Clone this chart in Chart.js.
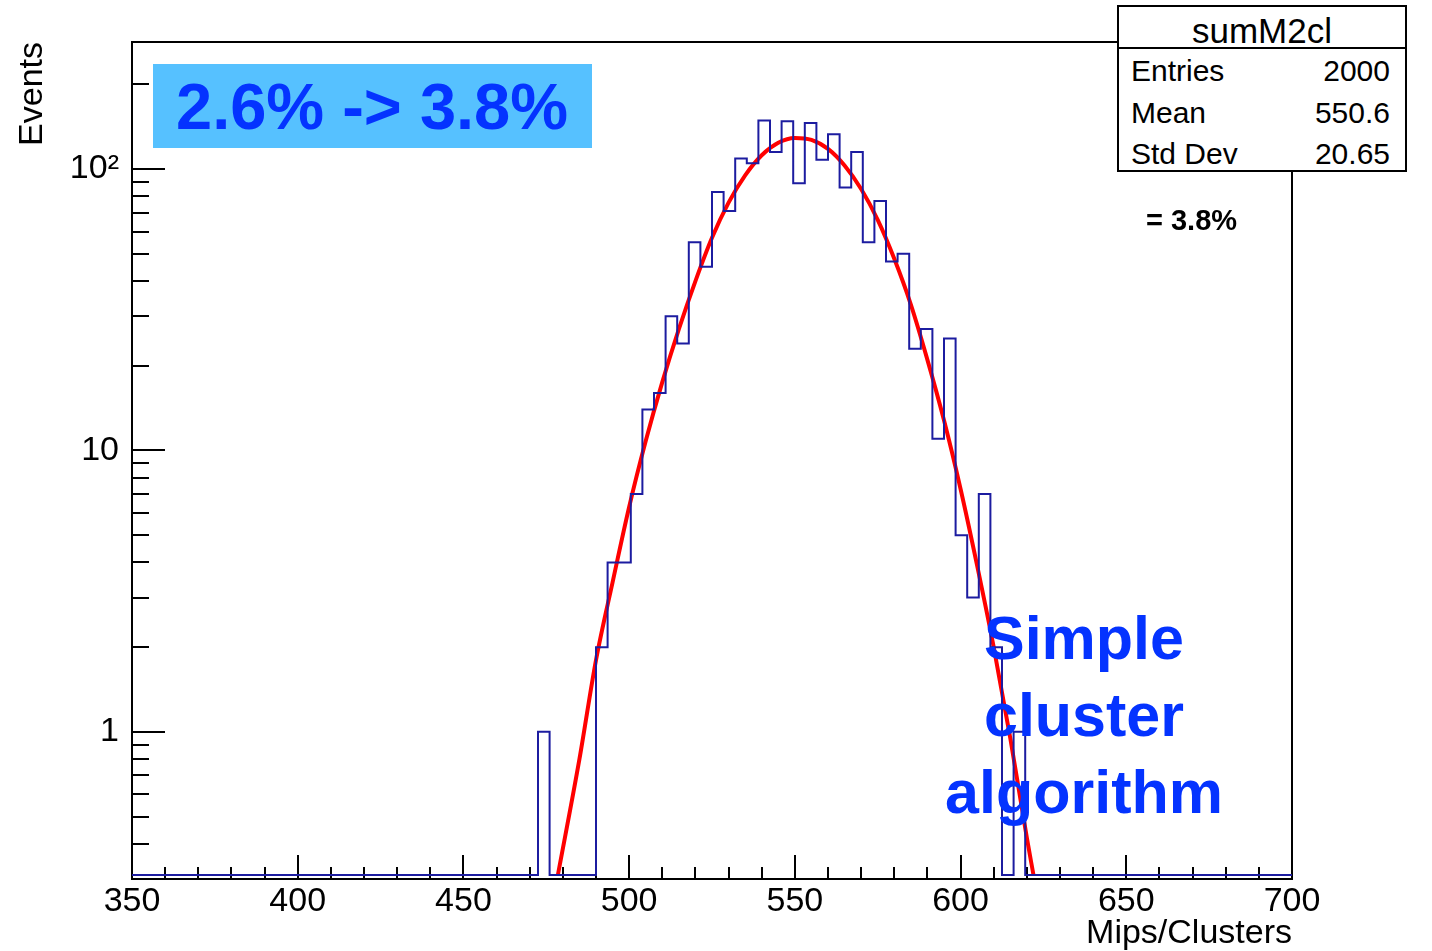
<!DOCTYPE html>
<html>
<head>
<meta charset="utf-8">
<script src="https://cdn.jsdelivr.net/npm/chart.js@4.4.1/dist/chart.umd.min.js"></script>
<style>
  html, body { margin: 0; padding: 0; background: #fff; }
  #wrap { position: relative; width: 1432px; height: 951px; font-family: "Liberation Sans", Arial, Helvetica, sans-serif; }
  #wrap canvas { position: absolute; left: 0; top: 0; }
  .txt { position: absolute; white-space: nowrap; color: #000; }
  #ratio { position: absolute; left: 153px; top: 64px; width: 439px; height: 84px; background: #56c1ff; }
  #ratio span { position: absolute; left: 23px; top: 1px; font-size: 65px; line-height: 84px; font-weight: bold; color: #0433ff; white-space: nowrap; }
  #stats { position: absolute; left: 1117px; top: 5px; width: 290px; height: 167px; box-sizing: border-box; border: 2px solid #000; background: #fff; }
  #stats .sep { position: absolute; left: 0; right: 0; top: 40px; border-top: 2px solid #000; }
  .st { position: absolute; font-size: 30px; line-height: 30px; color: #000; white-space: nowrap; }
  #algo { position: absolute; left: 984px; top: 600px; width: 200px; text-align: center; font-size: 61px; line-height: 77px; font-weight: bold; color: #0433ff; }
  #algo div { white-space: nowrap; margin-left: -50px; margin-right: -50px; }
</style>
</head>
<body>
<div id="wrap">
  <canvas id="myChart" width="1432" height="951"></canvas>
  <div id="ratio"><span>2.6% -&gt; 3.8%</span></div>
  <div id="stats">
    <div class="st" style="left:0;right:0;top:6px;text-align:center;font-size:35px;line-height:35px;">sumM2cl</div>
    <div class="sep"></div>
    <div class="st" style="left:12px;top:49px;">Entries</div>
    <div class="st" style="right:15px;top:49px;">2000</div>
    <div class="st" style="left:12px;top:91px;">Mean</div>
    <div class="st" style="right:15px;top:91px;">550.6</div>
    <div class="st" style="left:12px;top:132px;">Std Dev</div>
    <div class="st" style="right:15px;top:132px;">20.65</div>
  </div>
  <div class="txt" style="left:1146px;top:206px;font-size:29px;line-height:29px;font-weight:bold;">= 3.8%</div>
  <div id="algo"><div>Simple</div><div>cluster</div><div>algorithm</div></div>
</div>
<script>
// histogram sumM2cl (bins of 3.5, only the filled part, rest is 0)
const binStart = 472.5
const binWidth = 3.5
const counts = [1, 0, 0, 0, 0, 2, 4, 4, 7, 14, 16, 30, 24, 55, 45, 83, 71, 109, 105, 149,
  115, 148, 89, 146, 108, 133, 86, 115, 55, 77, 47, 50, 23, 27, 11, 25, 5, 3, 7, 2, 0, 1]

// gaus fit
const fitX = [478.5, 485, 490, 495, 500, 505, 510, 515, 520, 525, 530, 535, 540, 545, 550,
  555, 560, 565, 570, 575, 580, 585, 590, 595, 600, 605, 610, 615, 620, 622]
const fitY = [0.31, 0.8, 1.8, 3.4, 6.3, 10.8, 17.5, 27, 40, 57, 76, 95, 112, 124, 129,
  127, 118, 103, 85, 66, 48, 33, 21, 12.8, 7.3, 3.9, 2.0, 0.95, 0.42, 0.31]

// axes
const xMin = 350, xMax = 700
const yMin = 0.31, yMax = 283
const xTicks = [350, 360, 370, 380, 390, 400, 410, 420, 430, 440, 450, 460, 470, 480, 490, 500,
  510, 520, 530, 540, 550, 560, 570, 580, 590, 600, 610, 620, 630, 640, 650, 660, 670, 680, 690, 700]
const xLabelTicks = [350, 400, 450, 500, 550, 600, 650, 700]
const yTicks = [0.4, 0.5, 0.6, 0.7, 0.8, 0.9, 1, 2, 3, 4, 5, 6, 7, 8, 9, 10,
  20, 30, 40, 50, 60, 70, 80, 90, 100, 200]
const yLabels = { 1: '1', 10: '10', 100: '10²' }

const font = '"Liberation Sans", Arial, Helvetica, sans-serif'

// build the step outline, empty bins sit on the bottom of the frame
var histPts = [{ x: xMin, y: yMin }]
for (let i = 0; i < counts.length; i++) {
  histPts.push({ x: binStart + i * binWidth, y: Math.max(counts[i], yMin) })
}
histPts.push({ x: binStart + counts.length * binWidth, y: yMin })
histPts.push({ x: xMax, y: yMin })

var fitPts = fitX.map((x, i) => ({ x: x, y: fitY[i] }))

// frame + inward ticks like ROOT
const framePlugin = {
  id: 'frame',
  beforeDatasetsDraw(chart) {
    const ctx = chart.ctx
    const a = chart.chartArea
    const xs = chart.scales.x
    const ys = chart.scales.y
    ctx.save()
    ctx.strokeStyle = '#000'
    ctx.lineWidth = 2
    ctx.strokeRect(a.left, a.top, a.right - a.left, a.bottom - a.top)
    ctx.beginPath()
    xTicks.forEach(v => {
      const px = Math.round(xs.getPixelForValue(v))
      const len = xLabelTicks.includes(v) ? 24 : 12
      ctx.moveTo(px, a.bottom)
      ctx.lineTo(px, a.bottom - len)
    })
    yTicks.forEach(v => {
      const py = Math.round(ys.getPixelForValue(v))
      const len = yLabels[v] ? 33 : 17
      ctx.moveTo(a.left, py)
      ctx.lineTo(a.left + len, py)
    })
    ctx.stroke()
    ctx.restore()
  }
}

const ctx = document.getElementById('myChart').getContext('2d')

const data = {
  datasets: [{
    label: 'sumM2cl',
    data: histPts,
    borderColor: '#1c1ca0',
    backgroundColor: '#1c1ca0',
    borderWidth: 2,
    stepped: 'before',
    pointRadius: 0,
    fill: false
  }, {
    label: 'gaus',
    data: fitPts,
    borderColor: '#ff0000',
    backgroundColor: '#ff0000',
    borderWidth: 4,
    cubicInterpolationMode: 'monotone',
    pointRadius: 0,
    clip: 0,
    fill: false
  }]
}

const config = {
  type: 'line',
  data: data,
  plugins: [framePlugin],
  options: {
    responsive: false,
    animation: false,
    devicePixelRatio: 1,
    layout: { padding: { left: 0, right: 140, top: 42, bottom: 0 } },
    plugins: { legend: { display: false }, tooltip: { enabled: false } },
    scales: {
      x: {
        type: 'linear',
        min: xMin,
        max: xMax,
        grid: { display: false, drawTicks: false },
        border: { display: false },
        afterBuildTicks: s => { s.ticks = xTicks.map(v => ({ value: v })) },
        afterFit: s => { s.height = 72 },
        ticks: {
          autoSkip: false,
          maxRotation: 0,
          padding: 2,
          color: '#000',
          font: { family: font, size: 34 },
          callback: v => xLabelTicks.includes(v) ? String(v) : ''
        },
        title: {
          display: true,
          text: 'Mips/Clusters',
          align: 'end',
          color: '#000',
          padding: { top: 0, bottom: -3 },
          font: { family: font, size: 34 }
        }
      },
      y: {
        type: 'logarithmic',
        min: yMin,
        max: yMax,
        grid: { display: false, drawTicks: false },
        border: { display: false },
        afterBuildTicks: s => { s.ticks = yTicks.map(v => ({ value: v })) },
        afterFit: s => { s.width = 132 },
        ticks: {
          autoSkip: false,
          padding: 13,
          color: '#000',
          font: { family: font, size: 34 },
          callback: v => yLabels[v] || ''
        },
        title: {
          display: true,
          text: 'Events',
          align: 'end',
          color: '#000',
          padding: { top: 12, bottom: 0 },
          font: { family: font, size: 34 }
        }
      }
    }
  }
}

const myChart = new Chart(ctx, config)
</script>
</body>
</html>
